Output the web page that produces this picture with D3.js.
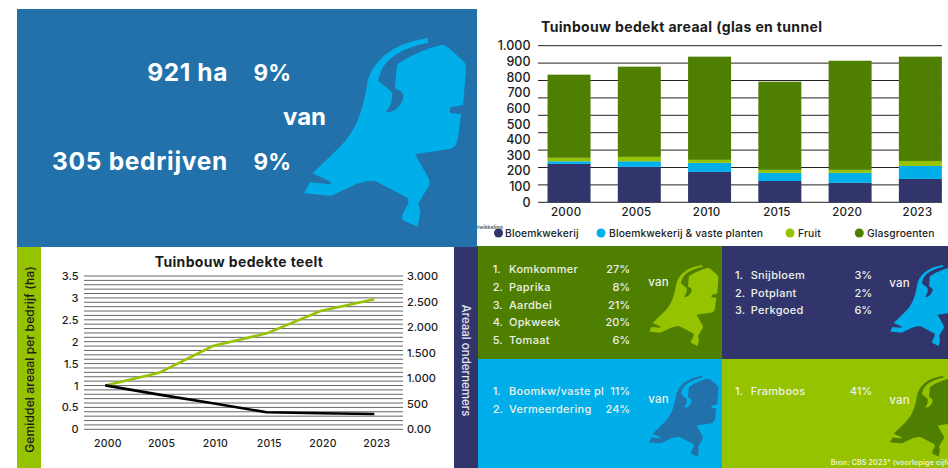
<!DOCTYPE html>
<html lang="nl">
<head>
<meta charset="utf-8">
<title>Tuinbouw bedekte teelt</title>
<script src="https://d3js.org/d3.v7.min.js"></script>
<style>
    html, body { margin: 0; padding: 0; background: #fff; overflow: hidden; }
    svg { display: block; font-family: Inter, "Noto Sans", sans-serif; }
</style>
</head>
<body>
<svg id="chart" width="948" height="468"></svg>
<script>
// jaren en arealen (ha)
var years = ["2000", "2005", "2010", "2015", "2020", "2023"];
var bloemkwekerij = [245, 226, 194, 136, 124, 149];
var bloemVaste = [17, 36, 58, 52, 64, 83];
var fruit = [22, 28, 19, 19, 19, 32];
var glasgroenten = [531, 576, 659, 563, 697, 666];

var seriesNames = ["Bloemkwekerij", "Bloemkwekerij & vaste planten", "Fruit", "Glasgroenten"];
var barTicks = [0, 100, 200, 300, 400, 500, 600, 700, 800, 900, 1000];

// lijngrafiek: gemiddeld areaal (links) en aantal ondernemers (rechts)
var arealPerBedrijf = [1.0, 1.29, 1.9, 2.19, 2.7, 2.97];
var ondernemers = [860, 678, 509, 333, 313, 300];
var leftTicks = [0, 0.5, 1, 1.5, 2, 2.5, 3, 3.5];
var rightTicks = [0, 500, 1000, 1500, 2000, 2500, 3000];

// teelten per tegel
var glasTeelten = ["Komkommer", "Paprika", "Aardbei", "Opkweek", "Tomaat"];
var glasPct = ["27%", "8%", "21%", "20%", "6%"];
var bloemTeelten = ["Snijbloem", "Potplant", "Perkgoed"];
var bloemPct = ["3%", "2%", "6%"];
var boomTeelten = ["Boomkw/vaste pl", "Vermeerdering"];
var boomPct = ["11%", "24%"];
var fruitTeelten = ["Framboos"];
var fruitPct = ["41%"];

var color = {
    blue: "#2271ab",
    sky: "#00aeea",
    navy: "#31356b",
    green: "#4f7f00",
    lime: "#96c300",
    text: "#1c1c1c"
};
var seriesColors = [color.navy, color.sky, color.lime, color.green];

// kaart van Nederland, als vorm
var nlPath = "M384,24 L385,38 C330,47 265,75 245,120 C240,132 236,145 235,152 L275,185 C280,205 272,232 257,245 " +
    "C265,250 280,245 290,235 C305,222 312,205 310,195 C308,185 295,180 285,175 L290,110 C292,103 297,98 302,96 " +
    "C340,72 385,55 415,47 C428,42 440,48 447,55 L490,93 C497,100 498,108 498,120 L489,225 L452,232 " +
    "C448,238 448,245 451,249 L483,253 L476,310 C473,335 468,352 450,357 L345,372 L385,443 C390,452 390,462 385,470 " +
    "L355,520 L361,548 L353,590 L312,572 C305,568 305,560 308,552 L326,518 L322,503 L230,455 C215,449 195,453 170,462 " +
    "L100,494 C92,498 85,498 75,496 L12,490 L30,457 L92,463 L92,455 L38,430 L120,350 C160,310 185,260 200,170 " +
    "C210,100 270,40 384,24 Z";

var svg = d3.select("#chart");
var nl = d3.formatLocale({ decimal: ",", thousands: ".", grouping: [3], currency: ["", ""] });
var thousands = nl.format(",d");

function rect(x, y, w, h, fill) {
    svg.append("rect").attr("x", x).attr("y", y).attr("width", w).attr("height", h).attr("fill", fill);
}

function label(x, y, str, size, weight, fill, anchor, spacing) {
    return svg.append("text")
        .attr("x", x).attr("y", y)
        .attr("font-size", size)
        .attr("font-weight", weight)
        .attr("fill", fill)
        .attr("text-anchor", anchor || "start")
        .attr("letter-spacing", spacing || 0)
        .text(str);
}

function map(tx, ty, k, fill) {
    svg.append("path").attr("d", nlPath).attr("fill", fill)
        .attr("transform", "translate(" + tx + "," + ty + ") scale(" + k + ")");
}

// achtergrondvlakken
rect(17, 246, 24, 222, color.lime);
rect(454, 246, 24, 222, color.navy);
rect(17, 9, 460, 238, color.blue);
rect(478, 246, 244, 113, color.green);
rect(722, 246, 226, 113, color.navy);
rect(478, 359, 244, 109, color.sky);
rect(722, 359, 226, 109, color.lime);

// kerncijfers
map(300, 30, 1 / 3, color.sky);
label(228, 81, "921 ha", 24.5, 700, "#fff", "end", 0.6);
label(291, 81, "9%", 22.5, 700, "#fff", "end");
label(283, 125, "van", 24, 700, "#fff");
label(228, 170, "305 bedrijven", 24.5, 700, "#fff", "end", 0.7);
label(291, 170, "9%", 22.5, 700, "#fff", "end");

// ---- staafgrafiek ----
label(541, 32, "Tuinbouw bedekt areaal (glas en tunnel", 14, 700, color.text, "start", 0.35);

var barX = d3.scaleBand().domain(years).range([533.9, 955.5]).paddingInner(0.388).paddingOuter(0.194);
var barY = d3.scaleLinear().domain([0, 1000]).range([202.3, 45.7]);
var gridY = d3.scaleLinear().domain([0, 9]).range([202.3, 45.7]);

svg.append("g").selectAll("line").data(gridY.ticks(9)).join("line")
    .attr("x1", 538).attr("x2", 942)
    .attr("y1", gridY).attr("y2", gridY)
    .attr("stroke", "#222").attr("stroke-width", 1);

var table = years.map(function (y, i) {
    return { year: y, a: bloemkwekerij[i], b: bloemVaste[i], c: fruit[i], d: glasgroenten[i] };
});
var stacked = d3.stack().keys(["a", "b", "c", "d"])(table);

svg.append("g").selectAll("g").data(stacked).join("g")
    .attr("fill", function (d, i) { return seriesColors[i]; })
    .selectAll("rect").data(function (d) { return d; }).join("rect")
    .attr("x", function (d) { return barX(d.data.year); })
    .attr("width", barX.bandwidth())
    .attr("y", function (d) { return barY(d[1]); })
    .attr("height", function (d) { return barY(d[0]) - barY(d[1]); });

var barAxisY = svg.append("g").attr("transform", "translate(530.5,0)")
    .call(d3.axisLeft(barY).tickValues(barTicks).tickSize(0).tickPadding(0).tickFormat(thousands));
var barAxisX = svg.append("g").attr("transform", "translate(-2.9,204.5)")
    .call(d3.axisBottom(barX).tickSize(0).tickPadding(3));
barAxisY.selectAll("text").attr("font-size", 12.5);
barAxisX.selectAll("text").attr("font-size", 11.5).attr("letter-spacing", 0.25);
[barAxisY, barAxisX].forEach(function (a) {
    a.select(".domain").remove();
    a.selectAll("text").attr("font-family", "Inter").attr("font-weight", 500).attr("fill", color.text);
});

// legenda
var legendDot = [498.5, 601, 790, 859.3];
var legendText = [505, 609, 798, 867];
seriesNames.forEach(function (name, i) {
    svg.append("circle").attr("cx", legendDot[i]).attr("cy", 233).attr("r", 4.5).attr("fill", seriesColors[i]);
    label(legendText[i], 236.5, name, 10.3, 500, color.text, "start", 0.14);
});
label(477, 229, "twikkeling", 5.2, 600, "#555");

// ---- lijngrafiek ----
label(239, 266.5, "Tuinbouw bedekte teelt", 14, 700, color.text, "middle", 0.35);

var lineX = d3.scalePoint().domain(years).range([105.3, 374.3]);
var leftY = d3.scaleLinear().domain([0, 3.5]).range([429.3, 276]);
var rightY = d3.scaleLinear().domain([0, 3000]).range([429.3, 276]);

svg.append("g").selectAll("line").data(leftY.ticks(35)).join("line")
    .attr("x1", 84).attr("x2", 403)
    .attr("y1", leftY).attr("y2", leftY)
    .attr("stroke", "#555").attr("stroke-width", 0.9);

var axisL = svg.append("g").attr("transform", "translate(78.5,0)")
    .call(d3.axisLeft(leftY).tickValues(leftTicks).tickSize(0).tickPadding(0).tickFormat(String));
var axisR = svg.append("g").attr("transform", "translate(407,0)")
    .call(d3.axisRight(rightY).tickValues(rightTicks).tickSize(0).tickPadding(0)
        .tickFormat(function (d) { return d === 0 ? "0.00" : thousands(d); }));
var axisX = svg.append("g").attr("transform", "translate(2,436.5)")
    .call(d3.axisBottom(lineX).tickSize(0).tickPadding(3));
[axisL, axisR, axisX].forEach(function (a) {
    a.select(".domain").remove();
    a.selectAll("text").attr("font-family", "Inter").attr("font-size", 11).attr("font-weight", 500).attr("fill", color.text);
});
axisX.selectAll("text").attr("font-size", 10.5).attr("letter-spacing", 0.2);

var lineLeft = d3.line()
    .x(function (d, i) { return lineX(years[i]); })
    .y(function (d) { return leftY(d); });
var lineRight = d3.line()
    .x(function (d, i) { return lineX(years[i]); })
    .y(function (d) { return rightY(d); });

svg.append("path").attr("d", lineLeft(arealPerBedrijf))
    .attr("fill", "none").attr("stroke", color.lime).attr("stroke-width", 2.6);
svg.append("path").attr("d", lineRight(ondernemers))
    .attr("fill", "none").attr("stroke", "#000").attr("stroke-width", 2.6);

// verticale titels
svg.append("text").attr("transform", "translate(34,359.5) rotate(-90)")
    .attr("text-anchor", "middle").attr("font-size", 12).attr("font-weight", 500).attr("fill", color.text)
    .attr("letter-spacing", 0.15)
    .text("Gemiddel areaal per bedrijf (ha)");
svg.append("text").attr("transform", "translate(462,360.5) rotate(90)")
    .attr("text-anchor", "middle").attr("font-size", 11.5).attr("font-weight", 500).attr("fill", "#e4e6f0")
    .text("Areaal ondernemers");

// ---- tegels ----
function tile(names, pcts, baselines, xNum, xName, xPct, vanX, vanY) {
    names.forEach(function (n, i) {
        label(xNum, baselines[i], (i + 1) + ".", 11, 500, "#eef1e8");
        label(xName, baselines[i], n, 11, 500, "#eef1e8", "start", 0.3);
        label(xPct, baselines[i], pcts[i], 11, 500, "#eef1e8", "end");
    });
    label(vanX, vanY, "van", 11.5, 500, "#eef1e8", "start", 0.2);
}

var mapK = 0.1429;
map(647.3, 261.6, mapK, color.lime);
map(888.3, 261.6, mapK, color.sky);
map(647.3, 372.3, mapK, color.blue);
map(888.3, 372.3, mapK, color.green);

tile(glasTeelten, glasPct, [272.7, 290.7, 308.7, 325.7, 343.7], 492.7, 509, 630.3, 648.3, 285.7);
tile(bloemTeelten, bloemPct, [278.7, 296.7, 313.7], 735, 750.7, 872.3, 889.3, 286.7);
tile(boomTeelten, boomPct, [394.7, 412.7], 492.7, 509, 630.3, 648.3, 402.7);
tile(fruitTeelten, fruitPct, [394.7], 735, 750.7, 872.3, 889.3, 403.7);

label(830.7, 464.7, "Bron: CBS 2023* (voorlopige cijfers)", 7, 600, "#eef3dc", "start", 0.2);
</script>
</body>
</html>
